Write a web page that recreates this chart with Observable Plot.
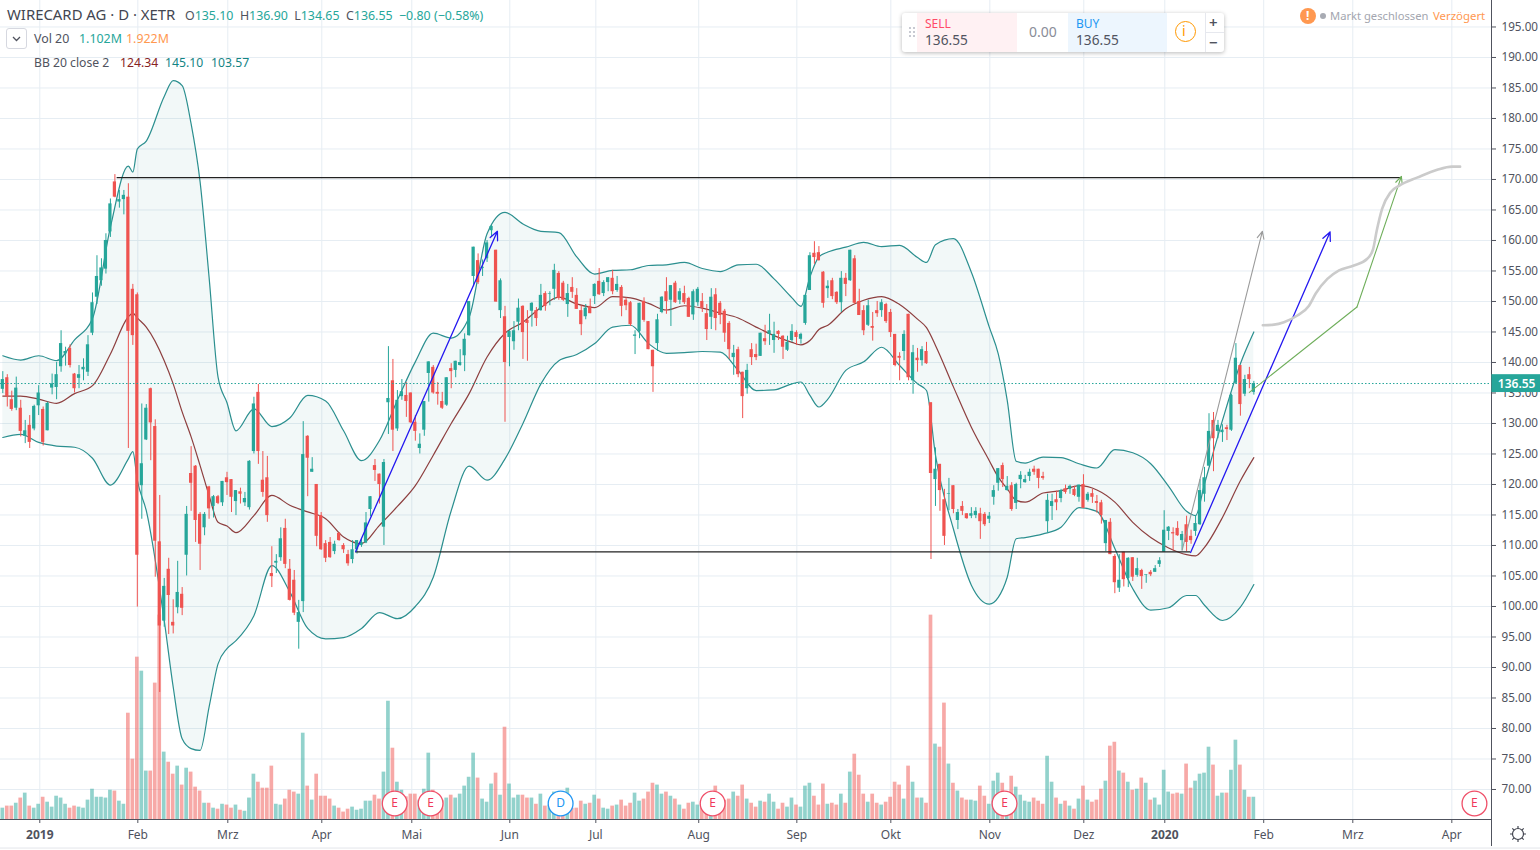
<!DOCTYPE html>
<html lang="de"><head><meta charset="utf-8">
<script src="https://cdn.jsdelivr.net/npm/d3@7"></script>
<script src="https://cdn.jsdelivr.net/npm/@observablehq/plot@0.6"></script>
<style>
html,body{margin:0;padding:0;background:#fff;overflow:hidden}
#wrap{position:relative;width:1540px;height:850px;overflow:hidden;font-family:"Noto Sans",sans-serif;color:#50535e}
#wrap svg{display:block}
.t{position:absolute;white-space:nowrap;line-height:1}
.box{position:absolute}
</style></head><body><div id="wrap"><div id="chart"></div>
<div class="t" style="left:7px;top:7px;font-size:14.9px;color:#434651">WIRECARD AG · D · XETR</div>
<div class="t" style="left:185px;top:10px;font-size:12.4px;color:#26a69a"><span style="color:#50535e">O</span>135.10 &nbsp;<span style="color:#50535e">H</span>136.90 &nbsp;<span style="color:#50535e">L</span>134.65 &nbsp;<span style="color:#50535e">C</span>136.55 &nbsp;−0.80 (−0.58%)</div>
<div class="box" style="left:6px;top:28px;width:19px;height:19px;background:#fff;border:1px solid #d6d8e0;border-radius:3px"><svg width="19" height="19"><path d="M6 8l3.5 3.5L13 8" fill="none" stroke="#50535e" stroke-width="1.3"/></svg></div>
<div class="t" style="left:34px;top:33px;font-size:12.4px">Vol 20</div>
<div class="t" style="left:79px;top:33px;font-size:12.4px;color:#26a69a">1.102M</div>
<div class="t" style="left:126px;top:33px;font-size:12.4px;color:#ff9850">1.922M</div>
<div class="t" style="left:34px;top:57px;font-size:12.2px">BB 20 close 2</div>
<div class="t" style="left:120px;top:57px;font-size:12.2px;color:#872323">124.34</div>
<div class="t" style="left:165px;top:57px;font-size:12.2px;color:#138484">145.10</div>
<div class="t" style="left:211px;top:57px;font-size:12.2px;color:#138484">103.57</div>

<div class="box" style="left:902px;top:13px;width:322px;height:39px;background:#fff;border-radius:3px;box-shadow:0 1px 4px rgba(0,0,0,.28)"></div>
<div class="box" style="left:917px;top:13px;width:100px;height:39px;background:#fff1f3"></div>
<div class="box" style="left:1068px;top:13px;width:99px;height:39px;background:#edf6fe"></div>
<div class="box" style="left:908px;top:26px;width:7px;height:12px;background-image:radial-gradient(#c8cad2 1px,transparent 1.2px);background-size:4px 4px"></div>
<div class="t" style="left:925px;top:18px;font-size:12px;color:#ff4a68">SELL</div>
<div class="t" style="left:925px;top:33px;font-size:13.7px">136.55</div>
<div class="t" style="left:1029px;top:25px;font-size:14px;color:#8a8d98">0.00</div>
<div class="t" style="left:1076px;top:18px;font-size:12px;color:#2196f3">BUY</div>
<div class="t" style="left:1076px;top:33px;font-size:13.7px">136.55</div>
<div class="box" style="left:1175px;top:21px;width:19px;height:19px;border:1.5px solid #ff9800;border-radius:50%;box-sizing:content-box"></div>
<div class="t" style="left:1182px;top:24px;font-size:14px;color:#ff9800">i</div>
<div class="box" style="left:1205px;top:13px;width:1px;height:39px;background:#e6e8ee"></div>
<div class="box" style="left:1205px;top:32px;width:19px;height:1px;background:#e6e8ee"></div>
<div class="t" style="left:1209px;top:15px;font-size:15px;font-weight:600">+</div>
<div class="t" style="left:1209px;top:35px;font-size:15px;font-weight:600">−</div>

<div class="box" style="left:1300px;top:8px;width:16px;height:16px;background:#ff9850;border-radius:50%"></div>
<div class="t" style="left:1306px;top:10px;font-size:12px;font-weight:700;color:#fff">!</div>
<div class="box" style="left:1320px;top:13px;width:6px;height:6px;background:#a8abb3;border-radius:50%"></div>
<div class="t" style="left:1330px;top:10px;font-size:11.2px;color:#a3a6af">Markt geschlossen</div>
<div class="t" style="left:1433px;top:10px;font-size:11.4px;color:#ff9850">Verzögert</div>
<svg class="box" style="left:1509px;top:825px" width="18" height="18" viewBox="0 0 18 18"><circle cx="9" cy="9" r="5.5" fill="none" stroke="#434651" stroke-width="1.2"/><path d="M9 1v2.5M9 14.5V17M1 9h2.5M14.5 9H17M3.3 3.3l1.8 1.8M12.9 12.9l1.8 1.8M3.3 14.7l1.8-1.8M12.9 5.1l1.8-1.8" stroke="#434651" stroke-width="1.2"/></svg>
</div>
<script>
// [open, high, low, close] per trading day
const ohlc = [
[135.6,138.5,134.9,137.2],[137.5,138,132.7,134.4],[133.9,135.3,132,132.3],[132.5,137.6,132.1,135.8],[132.5,133.8,127.8,128.7],
[127.9,130.5,126.7,128.8],[129.7,131.3,125.9,126.9],[129.1,133,128.8,132.8],[132.9,136.2,131.3,135],[132.3,132.7,126.3,126.9],
[128.8,133.5,128.8,133.3],[135.8,138.1,134.7,136.5],[135.9,140,133.9,138],[139.3,145.2,138.4,143.1],[141.4,142.5,139.4,141.8],
[142.3,142.9,139.1,139.5],[138.1,138.2,135,135.7],[137.4,139.5,135.7,138],[138.8,140.6,137,139.2],[138.4,144.4,137.7,142.9],
[144.8,151.4,144.4,149.8],[150.7,157.5,149.5,154.1],[153.4,157,152.5,155.5],[155.3,161.1,154.5,160],[161.4,166.8,160.5,166],
[169.6,170.8,167,167.1],[166.3,168.2,165.3,166.7],[166.7,168.2,164.2,167.4],[167.1,169.3,125.9,145.1],[152,152.8,142.8,144.4],
[151.1,151.4,99.9,108.4],[119.8,133.2,114.3,123.4],[127.3,133.1,127.2,132.5],[135.7,135.8,123.9,130.1],[129.5,130.6,104.8,110.7],
[110.6,118.2,85.9,96.8],[97.6,104.6,96.6,103.3],[106.1,107.9,95.4,101.8],[97.4,101.1,95.5,96.8],[99.8,107.4,98.8,102.3],
[102,103.1,98.5,99.7],[108.4,116.4,105,115.1],[121.8,126.2,115.6,120.2],[123,123.1,110.5,114.1],[115.1,115.4,105.9,110.2],
[112.9,115.4,111.6,115.1],[119.6,119.7,114.3,116],[116.4,118.2,114.5,118],[118,118.2,116.7,116.9],[117,120.5,116.4,120.5],
[121.1,122,118.2,120.3],[120.8,120.8,115.4,117.9],[117.2,119,114.9,119],[118.8,119.4,116.8,118.4],[117,118.7,116.4,117.7],
[116.2,123.9,115.8,123.8],[125.4,134.3,125,133.2],[135.1,136.4,123.3,125.4],[120.7,125.4,117.9,118.7],[121.1,124.6,113.8,114.9],
[105.4,109.8,103.1,104.9],[107.1,108.5,105.4,107.4],[108,112.9,107.4,111.1],[112.8,114.3,106.2,106.9],[106.1,107.7,100.9,101],
[104.3,105.9,98.5,98.9],[97.4,101,93,99],[100.8,130.3,99,124.9],[127.9,128,118,124.3],[122,124.4,122,122.5],
[120,120,109.8,111.5],[114.9,115.4,109.2,109.3],[110.3,110.8,107.2,107.9],[110.5,111.3,107.9,108],[109,110.7,108.5,110.2],
[112,112.1,110.7,110.8],[110,110.3,108.7,109.3],[108.5,109.2,106.6,107],[107.7,110.8,107,109.3],[109.3,110.8,108.6,110.8],
[110,111,109.7,110.5],[110.4,115.4,110.3,113.7],[115.9,118,114.7,118],[123.1,124.1,120.5,122.3],[121.7,121.7,116.8,120],
[113,124.1,110,123.6],[133.4,142.6,128.2,134.1],[137,140.5,125.4,128.9],[129.1,135.4,128.7,133.8],[134.4,137.2,133.8,135.2],
[134.6,136.7,131,133.6],[135,135,130,130.1],[130.2,131.3,127.1,128.7],[125.9,128.3,125,126.6],[128.9,133.6,127.9,133.6],
[138.2,140.1,133.5,140.1],[139.2,139.5,134.8,135],[135.1,136.7,133,134.8],[133.6,135.1,132.3,132.5],[133,137.5,132.8,137.5],
[139,139.8,135.7,138.5],[138.7,140.2,137.5,140.2],[139.5,142.1,139.4,140],[141.1,144.7,138.5,143.8],[144.4,150,144.3,150],
[154.1,158.9,152.4,158.9],[156.7,157.8,152.8,153.1],[155.4,156.8,154.1,155.6],[157,160,156.4,159.6],[161.6,162.5,160.5,162.3],
[158.4,158.4,149.9,149.9],[148.5,153.7,147.2,153.4],[147.5,149.2,130.2,140],[144.1,145.2,139.3,145.1],[143.4,146.7,142,145.2],
[146.6,150.4,145.2,148.9],[149.2,149.3,140.5,144.9],[146.9,148.5,140.2,146.4],[148.4,149.8,145.8,149.7],[148.5,149,145.9,147.2],
[148.5,152.8,148.4,151],[151.3,151.6,148.4,149.2],[151.2,151.6,149.3,151.3],[152,156.1,150.2,155.1],[154.6,154.9,150.2,150.5],
[153,153.3,150,150.2],[149.5,152.8,147.4,151.3],[152.3,153.9,150.5,151.5],[151,152.1,148.7,148.7],[148.5,149.3,144.4,146.2],
[147.5,149.5,147,148.9],[149.2,150.4,148,148],[150.8,152.9,149.5,152.8],[153.3,155.4,151,151.1],[151.3,153.4,150.8,153.1],
[153.1,153.9,151.6,153.9],[153.8,155.1,151.1,151.6],[151.8,154.1,151.5,152.8],[152.3,152.6,147.5,149.2],[150.2,150.6,148.5,149.3],
[149.8,150,145.9,146.2],[144.3,145.2,141.3,144.5],[145.1,149.7,143.9,149.7],[150,150.6,146.6,146.9],[146.7,146.7,142.1,142.1],
[142,142,135.1,139.3],[143.1,147.9,141.8,147],[148.2,150.8,148,150.7],[151.6,153.9,147.9,150],[150.2,152.6,145.9,152.6],
[153,153.3,149.7,149.8],[150.2,152.1,149.5,151.6],[151.3,152.5,149.5,149.8],[150.5,150.7,147.4,147.4],[147.8,151.9,146.9,151.6],
[149.8,152.3,149.2,152],[150,151.3,148.2,148.9],[148,149.5,143.6,145.4],[147.4,152.1,145.4,150.7],[151.1,152.1,145.2,147.2],
[149.7,150,146.2,147.7],[148.4,148.7,143.3,144.8],[146.4,146.7,140.5,142.1],[140.8,142.8,137.9,141.5],[142.1,142.5,137.5,138],
[138.4,138.4,130.8,134.4],[135.7,139.7,134.8,138.7],[142.1,143.1,139.5,140.8],[141.3,143,140.3,140.8],[141,144.8,141,144.8],
[143.9,146.1,142.8,143.4],[144.6,147.9,142.8,145.2],[143.6,146.6,141.5,144.6],[145.1,145.2,143.6,144.6],[144.3,144.4,140.5,142.5],
[142,144.3,141.8,143.3],[143.6,146.2,143.3,145.1],[144.9,145.2,142.8,144.1],[143.8,144.8,143,144.6],[146.4,151.1,146.1,151],
[151.8,158,151.8,157.5],[157.9,159.8,156.1,157.2],[158,159,156.6,156.7],[154.8,154.9,148.9,149.7],[152.1,153.4,150.5,152.5],
[153.4,153.8,150.3,150.8],[151.5,151.6,149.5,149.8],[149.8,154.9,148.2,153.8],[153.8,154.6,150.8,152.8],[153.4,158.4,153.3,158.4],
[157,157.5,149.5,149.7],[150,152,147.7,147.7],[148.5,149.3,144.4,145.2],[146.1,150.2,145.9,149.3],[145.9,148.2,143.5,145.6],
[148.5,150,147.4,148],[148.5,150.3,147.4,149.8],[149.5,149.7,146.4,146.7],[148.2,148.7,144.1,144.9],[144.6,144.6,139.3,139.5],
[141,141.6,137,140.7],[141.8,145.2,140.3,144.6],[147.9,147.9,137,137.5],[137,142.8,134.8,141.6],[140.7,142.3,138.4,140.3],
[140.3,142.6,139.4,142.1],[141.8,143.3,139.7,139.8],[133.4,133.4,107.7,121.8],[120.8,126,116.4,122.5],[123.3,123.3,115.6,119],
[117.5,119.2,110,111.5],[118.4,121,115.7,118.5],[119.8,119.8,115.2,115.9],[114.1,115.9,112.6,115.4],[116.4,117.2,114.9,115.6],
[115.2,115.2,114.3,114.4],[114.8,116.2,114.4,115.2],[114.9,116.2,114.4,115.6],[115.2,116.1,111,113.9],[115.1,115.4,113.1,113.4],
[114.3,115.4,113.6,114.8],[117.9,119.8,116.6,119],[120.2,122.6,118.9,122.6],[123.1,123.5,119.5,120.8],[119,121.3,118.9,119.7],
[119.8,120.3,115.6,115.9],[116.9,120.2,115.9,120],[120.8,122.1,119.3,121.5],[120.3,121.5,120.2,120.8],[121.3,122.5,120.5,122],
[122.5,123,121.5,122],[122.5,122.5,119.3,121],[121.3,122,120.7,121],[113.9,118.4,112.1,117.4],[116.4,118.4,114.1,117.2],
[117.5,118.9,115.7,117],[117.7,119.2,117,119],[119.3,119.9,118.4,118.7],[119.2,119.9,118.4,119.7],[119.2,119.7,118,118.2],
[117.9,119.9,117.1,119.9],[120,121.6,116.1,116.1],[117.4,118.7,117.1,118.4],[118.5,119.2,116.9,117.9],[117.2,118.2,115.3,116.9],
[117,117.4,113.5,114.9],[110.3,114.1,109,114.1],[113.8,114.4,108.5,108.5],[108.2,108.5,102.1,103.9],[103,108.5,102.3,104.3],
[108.9,108.9,103.2,104.4],[104.6,108,103.1,107.9],[108,108,104.1,104.8],[105.1,107.9,104.8,106.2],[105.9,106.1,102.8,104.9],
[105.1,105.2,103.8,105.2],[105.6,105.9,104.9,105.2],[105.6,106.7,105.6,106.2],[106.9,108,106.4,107.5],[108.9,115.7,108.9,112.5],
[112.3,113.1,110.8,113],[112.1,112.9,109.2,111.9],[112.8,113.9,111.5,111.6],[110.8,112.3,109.2,111.8],[113.4,114.8,109,110.5],
[111.5,112.5,110.2,110.8],[112.3,114.9,111.5,113.6],[113.4,120.8,113.3,119],[118.4,122.8,117.1,121.1],[123,131.6,123,128.7],
[130.5,131.8,122.1,127.5],[128.7,130.5,127.5,129.7],[128.5,129.8,126.9,128.9],[129.3,129.7,127.2,129],[128.9,134.8,128.7,134.6],
[136.6,143.1,136.4,140.7],[139.5,139.5,131.2,133.1],[134.8,137.9,134.4,137.2],[138,139.2,135.7,137.2],[135.1,136.9,134.65,136.55]
];
// volume in millions per trading day
const volumeM = [
.55,.65,.65,.79,1.04,1.28,.65,.55,.74,1.08,.84,.6,1.13,1.04,.74,.55,.65,.6,.55,.94,
1.47,1.08,1.08,1.04,1.42,1.38,.89,.74,5.16,2.93,7.88,7.2,2.35,2.35,6.62,9.92,3.27,2.78,2.2,2.59,
1.67,2.49,2.3,1.57,1.38,.79,.79,.55,.5,.74,.7,.55,.7,.45,.4,1.04,2.2,1.81,1.52,1.52,
2.59,.74,.7,.99,1.42,1.33,1.23,4.19,1.62,.94,2.2,1.13,1.13,.99,.65,.55,.36,.5,.6,.45,
.5,.89,.89,1.18,.99,2.3,5.74,3.46,1.81,1.42,1.1,1.23,1.23,.94,1.47,3.22,1.42,1.18,.94,1.04,
1.18,1.04,1.23,1.62,2.05,3.22,2.01,.99,.84,1.72,2.25,1.18,4.48,1.72,1.04,1.18,1.18,1.04,1.04,.74,
1.23,.65,.7,1.33,.45,.53,1.52,.55,.55,.89,.74,.79,1.18,.99,.55,.5,.65,.7,.94,.65,
.79,1.28,.89,.99,1.33,1.76,1.67,1.23,1.33,1.13,.99,.7,.5,.79,.84,.7,.78,.94,.7,1.62,
1.1,.94,.99,1.33,1.13,1.67,.99,.79,.6,.89,.84,1.23,.84,.5,.79,.6,1.04,.7,.6,1.62,
1.76,1.13,.7,1.72,.74,.79,.7,1.23,.79,2.3,3.17,2.15,1.23,.84,1.23,.79,.7,.84,1.08,1.81,
1.67,.99,2.59,1.81,1.04,1.04,.79,9.92,3.66,3.51,5.65,2.69,1.76,1.38,1.04,.94,.94,.89,1.62,1.13,
.74,1.86,2.25,1.76,1.18,2.1,1.57,1.18,.89,.84,1.04,.89,.74,3.07,1.81,1.04,.74,.89,.65,.5,
.99,1.62,.94,.84,.94,1.47,1.86,3.56,3.75,2.35,2.25,1.81,1.42,1.47,2.01,1.76,.94,1.04,.7,2.39,
1.33,1.23,1.28,1.23,2.69,1.52,1.86,2.2,2.25,3.51,2.64,1.13,1.28,1.28,2.39,3.85,2.64,1.42,1.08,1.08
];
// Bollinger Bands (20, close 2), read at these bars
const bbBar = [0,4,8,12,16,20,24,28,29,30,32,36,38,40,42,44,46,48,50,52,56,60,64,68,72,76,80,84,88,92,96,100,104,108,112,116,120,124,128,132,136,140,144,148,152,156,160,164,168,172,176,178,180,182,184,188,192,196,200,204,206,208,212,216,220,222,224,226,228,232,236,240,244,248,252,256,260,264,266,268,272,276,279];
const bbUpper = [141.1,140.4,141.1,140.3,143.7,147.2,162.2,172.2,171.2,175,176.3,183.6,186.2,185.4,179.1,169.6,154,137.6,133.4,128.8,132.4,129.5,130.9,134.6,133.7,128.8,123.9,127.2,133.8,140.1,144.8,144,147.4,161.1,164.6,162.7,161.5,161.3,157.3,154.5,155.1,155.2,155.9,156,156.4,155.4,154.9,156,156.1,153.7,150.6,149.2,154,157.3,158.1,158.9,159.7,159,159.2,157.2,156.4,159.3,160.3,154.8,145.8,141.4,133.8,123.8,123.5,124.5,124.4,123.4,122.7,125.7,125.2,123.4,119.7,115.6,114.9,120.1,130.5,139.8,145];
const bbBasis = [134.5,134.5,134,133.3,134.9,136.2,141.4,147.5,148.1,147.3,145.8,140.3,136.5,131.9,127.8,123.1,118.2,113.8,113.2,112.1,114.9,118.2,116.6,115.5,114.4,111.4,110.3,113.3,116.4,119.8,124.8,130,134.9,140.9,144.8,146.6,149,150.7,149.6,149,150.8,150.6,149.7,148.6,149.3,148.9,148.1,147.3,145.8,144.4,143.3,142.9,143.6,145.4,146.1,148.8,150.2,150.8,149.5,147.1,145.7,142.8,136,129.4,123.9,121.2,119.3,117.4,117.1,118.6,119,119.8,119.1,117.1,113.8,111.3,109.6,108.5,108.3,109.7,114.6,120.6,124.4];
const bbLower = [127.7,128.2,126.9,126.3,126.1,124.3,119.9,124.2,125.4,120.7,115.7,97.7,86.8,78.3,76.7,76.4,83.5,90.6,93.1,94.4,98.5,106.7,102.4,96.4,94.7,94.9,96.4,99,98,100,104.8,115.7,123,120.7,124.2,130,136.5,140.3,141.3,143.1,145.8,146.1,143.1,141.5,141.6,141.8,141.7,138.7,135.4,135.5,136.5,136.8,134.6,132.7,134,138.7,140.1,142.5,139.5,136.5,135.4,124.8,112.7,103.5,100.4,101.5,104.8,111.1,111.3,111.9,113,116.2,115.6,109.5,102.9,99.4,99.8,101.8,101.8,100.2,97.7,99.9,103.6];
// drawing tools (bar number, price)
const levelTop = {from:25.5, to:312, price:170.3};
const levelBottom = {from:78.7, to:264.9, price:108.95};
const arrowsBlue = [[78.7,109,110.3,161.5],[264.9,108.85,296,161.4]];
const arrowGray = [[263,109.2,280.9,161.5]];
const greenBars = [278,302];
const greenPrices = [135.1,149.1];
const arrowGreen = [[302,149.1,311.9,170.5]];
const curveBars = [281,283.5,285.7,288.7,291.3,292.8,295.4,298,301.3,304.3,305.6,306.4,307.6,309.5,311.7,315.4,319.9,323.2,325];
const curvePrices = [146.1,146.2,146.6,147.7,149.3,151.3,153.7,155.1,155.9,157,158.6,161.6,165.2,167.9,169.1,170.3,171.6,172.1,172.1];
// axes
const priceTicks = d3.range(70,200,5);
const monthBars = [30.11,50.18,71.14,91.21,113.07,132.25,155.2,177.08,198.04,220.12,241.08,281.2,301.07,323.15];
const monthLabels = ["Feb","Mrz","Apr","Mai","Jun","Jul","Aug","Sep","Okt","Nov","Dez","Feb","Mrz","Apr"];
const yearBars = [8.25,259.14];
const yearLabels = ["2019","2020"];
const eventBars = [87.4,95.4,124.4,158.3,223.4,328.2];
const eventLabels = ["E","E","D","E","E","E"];
const lastPrice = 136.55;

const xDomain = [-0.513,332];
const yDomain = [65.08,199.34];
const volUnit = 3.377; // price units per million shares on the shared pane
const bars = ohlc.map((d,i)=>({i,o:d[0],h:d[1],l:d[2],c:d[3],up:d[3]>=d[0]}));
const vols = volumeM.map((v,i)=>({i,v,up:bars[i].up}));
const bb = bbBar.map((i,k)=>({i,u:bbUpper[k],m:bbBasis[k],l:bbLower[k]}));
const GREEN="#26a69a",RED="#ef5350",GRID="#e6edf3",INK="#50535e",TEAL="#2b8f8f";
const font='"Noto Sans",sans-serif';
const curve=curveBars.map((x,k)=>({x,y:curvePrices[k]}));
const green=greenBars.map((x,k)=>({x,y:greenPrices[k]}));
const arrow=(a,stroke,w=1.1)=>Plot.arrow(a,{x1:d=>d[0],y1:d=>d[1],x2:d=>d[2],y2:d=>d[3],stroke,strokeWidth:w,headLength:11,headAngle:50,bend:0});

const chart = Plot.plot({
  width:1540,height:850,marginLeft:0,marginRight:49,marginTop:0,marginBottom:31,
  style:{fontFamily:font,background:"transparent",overflow:"visible"},
  x:{type:"linear",domain:xDomain,axis:null},
  y:{type:"linear",domain:yDomain,axis:null},
  marks:[
    Plot.ruleX([...monthBars,...yearBars],{stroke:GRID,strokeWidth:1}),
    Plot.ruleY(priceTicks,{stroke:GRID,strokeWidth:1}),
    Plot.rect(vols,{x1:d=>d.i-.41,x2:d=>d.i+.41,y1:yDomain[0],y2:d=>yDomain[0]+d.v*volUnit,fill:d=>d.up?GREEN:RED,fillOpacity:.5}),
    Plot.areaY(bb,{x:"i",y1:"u",y2:"l",fill:"#138484",fillOpacity:.055,curve:"monotone-x"}),
    Plot.line(bb,{x:"i",y:"u",stroke:TEAL,strokeWidth:1.2,curve:"monotone-x"}),
    Plot.line(bb,{x:"i",y:"l",stroke:TEAL,strokeWidth:1.2,curve:"monotone-x"}),
    Plot.line(bb,{x:"i",y:"m",stroke:"#8d3f3f",strokeWidth:1.2,curve:"monotone-x"}),
    Plot.ruleX(bars,{x:"i",y1:"l",y2:"h",stroke:d=>d.up?GREEN:RED,strokeWidth:1}),
    Plot.rect(bars,{x1:d=>d.i-.36,x2:d=>d.i+.36,y1:d=>Math.min(d.o,d.c),y2:d=>Math.max(d.o,d.c),fill:d=>d.up?GREEN:RED}),
    Plot.ruleY([levelTop],{x1:"from",x2:"to",y:"price",stroke:"#222",strokeWidth:1.1}),
    Plot.ruleY([levelBottom],{x1:"from",x2:"to",y:"price",stroke:"#222",strokeWidth:1.1}),
    Plot.ruleY([lastPrice],{x1:xDomain[0],x2:xDomain[1],stroke:GREEN,strokeWidth:1,strokeDasharray:"1.5,2"}),
    arrow(arrowsBlue,"#2418f0",1.3),
    arrow(arrowGray,"#9b9b9b",1.1),
    Plot.line(green,{x:"x",y:"y",stroke:"#6fae5b",strokeWidth:1.1}),
    arrow(arrowGreen,"#6fae5b",1.1),
    Plot.line(curve,{x:"x",y:"y",stroke:"#cbcbcb",strokeWidth:2.6,curve:"monotone-x"}),
    Plot.dot(eventBars,{x:d=>d,y:67.7,r:12.4,fill:"#fff",stroke:(d,k)=>eventLabels[k]=="D"?"#2196f3":"#ef4f68",strokeWidth:1.3}),
    Plot.text(eventBars,{x:d=>d,y:67.7,text:(d,k)=>eventLabels[k],fill:(d,k)=>eventLabels[k]=="D"?"#2196f3":"#f0385a",fontSize:12}),
    Plot.axisY(priceTicks,{anchor:"right",label:null,tickSize:4,tickPadding:6,tickFormat:d=>d.toFixed(2),fontSize:11.7,color:INK,stroke:INK}),
    Plot.axisX(monthBars,{anchor:"bottom",label:null,tickSize:4,tickPadding:7,tickFormat:d=>monthLabels[monthBars.indexOf(d)],fontSize:12,color:INK,stroke:INK}),
    Plot.axisX(yearBars,{anchor:"bottom",label:null,tickSize:4,tickPadding:7,tickFormat:d=>yearLabels[yearBars.indexOf(d)],fontSize:12,fontWeight:700,color:INK,stroke:INK}),
    Plot.ruleX([xDomain[1]],{y1:60.65,y2:yDomain[1],stroke:INK,strokeWidth:1}),
    Plot.ruleY([yDomain[0]],{x1:xDomain[0],x2:xDomain[1],stroke:INK,strokeWidth:1}),
    Plot.ruleY([60.4],{x1:xDomain[0],x2:343,stroke:"#e3e5ea",strokeWidth:1}),
    Plot.rect([lastPrice],{x1:xDomain[1]+.1,x2:343,y1:135.07,y2:138,fill:GREEN}),
    Plot.text([lastPrice],{x:337.6,y:136.5,text:d=>d.toFixed(2),fill:"#fff",fontSize:12,fontWeight:600})
  ]
});
document.getElementById("chart").append(chart);
</script></body></html>
